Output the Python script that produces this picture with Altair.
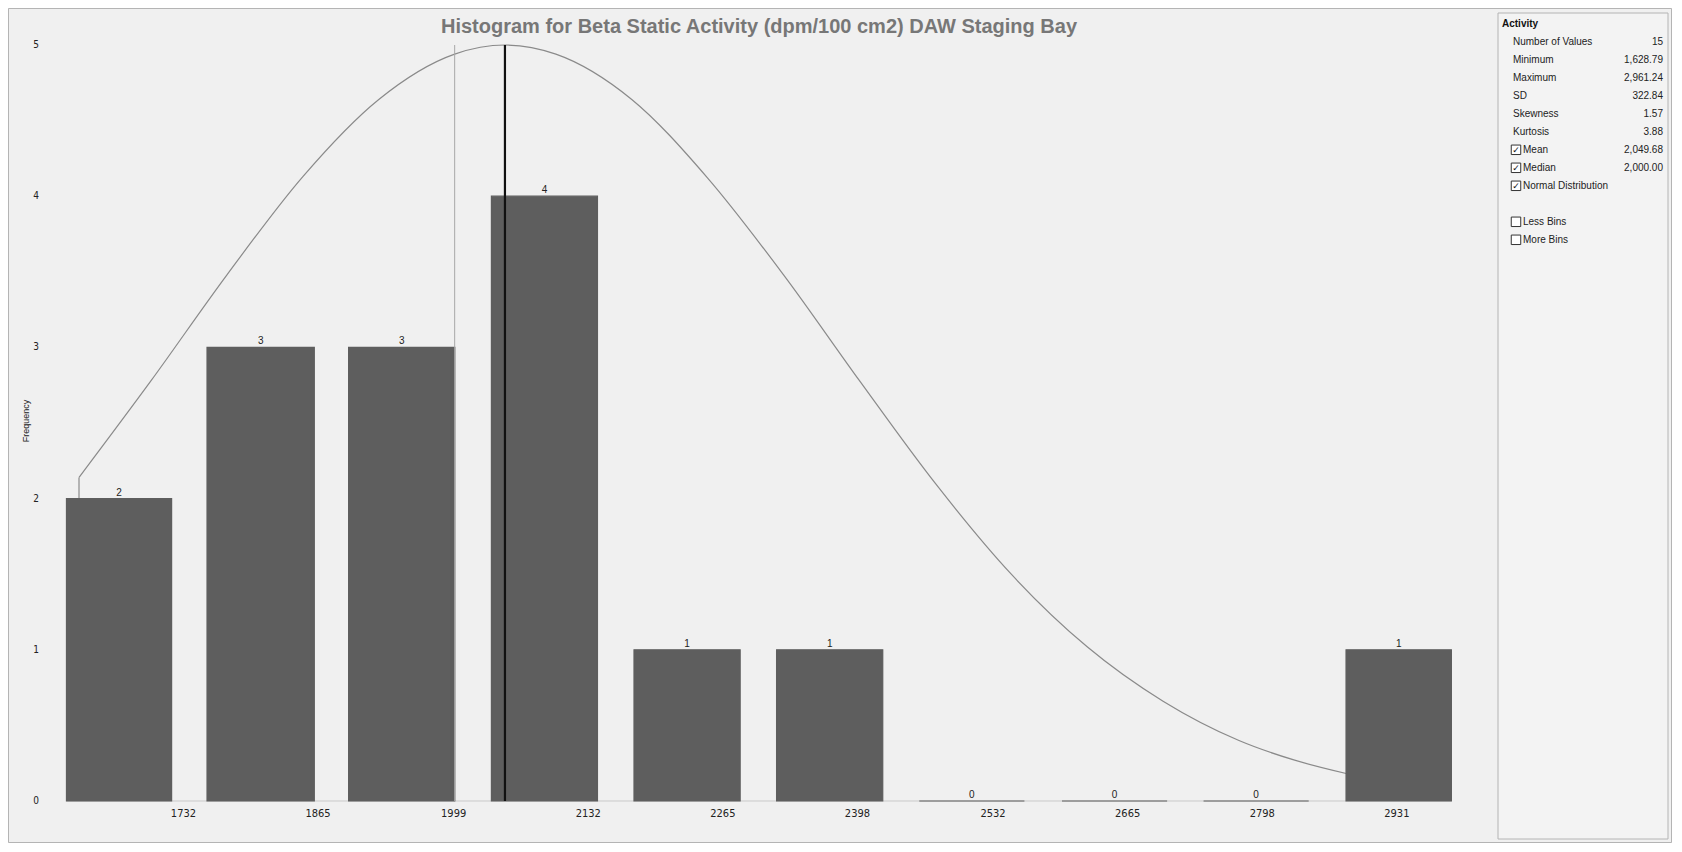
import altair as alt
import pandas as pd

# ---------------- data ----------------
bin_start = [1616.4, 1755.3, 1895.2, 2036.3, 2177.2, 2318.1, 2459.1, 2600.1, 2740.0, 2880.8]
bin_end = [1720.3, 1861.3, 2000.1, 2141.1, 2282.1, 2423.0, 2563.0, 2704.0, 2843.9, 2984.9]
counts = [2, 3, 3, 4, 1, 1, 0, 0, 0, 1]

tick_values = [1732, 1865, 1999, 2132, 2265, 2398, 2532, 2665, 2798, 2931]
y_ticks = [0, 1, 2, 3, 4, 5]

curve_x = [1628.79, 1700, 1775, 1850, 1925, 2000, 2049.68, 2100, 2175, 2250,
           2325, 2400, 2475, 2550, 2625, 2700, 2775, 2830, 2882]
curve_y = [2.14, 2.78, 3.48, 4.13, 4.64, 4.94, 5.00, 4.94, 4.64, 4.12,
           3.48, 2.78, 2.10, 1.50, 1.02, 0.66, 0.40, 0.27, 0.18]

mean_value = 2049.68
median_value = 2000.0
y_top = 5

stat_labels = ["Number of Values", "Minimum", "Maximum", "SD", "Skewness", "Kurtosis",
               "Mean", "Median", "Normal Distribution", "Less Bins", "More Bins"]
stat_values = ["15", "1,628.79", "2,961.24", "322.84", "1.57", "3.88",
               "2,049.68", "2,000.00", "", "", ""]
stat_rows = [0, 1, 2, 3, 4, 5, 6, 7, 8, 10, 11]
stat_check = ["none"] * 6 + ["checked"] * 3 + ["unchecked"] * 2

title_text = "Histogram for Beta Static Activity (dpm/100 cm2) DAW Staging Bay"
panel_title = "Activity"

# ---------------- layout ----------------
W, H = 1664, 835
ZERO_PX, UNIT_PX = 793.0, 151.2
FONT = "Liberation Sans, Arial, sans-serif"
NARROW = "Liberation Sans Narrow, DejaVu Sans Condensed, Liberation Sans, sans-serif"

xs = alt.Scale(domain=[1558.63, 3202.89], nice=False, zero=False)
ys = alt.Scale(domain=[(ZERO_PX - H) / UNIT_PX, ZERO_PX / UNIT_PX], nice=False, zero=False)

bars_df = pd.DataFrame({"start": bin_start, "end": bin_end, "count": counts})
bars_df["mid"] = (bars_df["start"] + bars_df["end"]) / 2
bars_df["zero"] = 0
curve_df = pd.DataFrame({"x": curve_x, "y": curve_y})
ticks_df = pd.DataFrame({"t": tick_values, "label": [str(t) for t in tick_values]})
yt_df = pd.DataFrame({"v": y_ticks, "label": [str(v) for v in y_ticks]})
stats_df = pd.DataFrame({"label": stat_labels, "value": stat_values,
                         "row": stat_rows, "check": stat_check})
one = pd.DataFrame({"a": [0]})
median_df = pd.DataFrame({"x": [median_value], "zero": [0], "top": [y_top]})
mean_df = pd.DataFrame({"x": [mean_value], "zero": [0], "top": [y_top]})
start_df = pd.DataFrame({"x": [curve_x[0]], "zero": [0], "y2": [curve_y[0]]})
base_df = pd.DataFrame({"a": [bin_start[0]], "b": [bin_end[-1]], "zero": [0]})


def X(f):
    return alt.X(f, type="quantitative", scale=xs, axis=None)


def Y(f):
    return alt.Y(f, type="quantitative", scale=ys, axis=None)


frame = alt.Chart(one).mark_rect(fill="#f0f0f0", stroke="#b4b4b4", strokeWidth=1).encode(
    x=alt.value(0.5), x2=alt.value(W - 0.5), y=alt.value(0.5), y2=alt.value(H - 0.5))

baseline = alt.Chart(base_df).mark_rule(color="#c9c9c9", strokeWidth=1).encode(
    x=X("a"), x2=alt.X2("b"), y=Y("zero"))

curve_start = alt.Chart(start_df).mark_rule(color="#8a8a8a", strokeWidth=1.2).encode(
    x=X("x"), y=Y("zero"), y2=alt.Y2("y2"))
curve = alt.Chart(curve_df).mark_line(color="#8a8a8a", strokeWidth=1.2,
                                      interpolate="monotone").encode(x=X("x"), y=Y("y"))

bars = alt.Chart(bars_df).mark_rect(color="#5e5e5e", stroke="#5e5e5e", strokeWidth=1.2).encode(
    x=X("start"), x2=alt.X2("end"), y=Y("zero"), y2=alt.Y2("count"))
bar_labels = alt.Chart(bars_df).mark_text(font=FONT, fontSize=10, color="#222222",
                                          baseline="alphabetic", dy=-3).encode(
    x=X("mid"), y=Y("count"), text=alt.Text("count:Q"))

median_line = alt.Chart(median_df).mark_rule(color="#a8a8a8", strokeWidth=1).encode(
    x=X("x"), y=Y("zero"), y2=alt.Y2("top"))
mean_line = alt.Chart(mean_df).mark_rule(color="#111111", strokeWidth=2.2).encode(
    x=X("x"), y=Y("zero"), y2=alt.Y2("top"))

x_labels = alt.Chart(ticks_df).mark_text(font=NARROW, fontSize=11, color="#222222",
                                         baseline="middle").encode(
    x=X("t"), y=alt.value(806), text=alt.Text("label:N"))
y_labels = alt.Chart(yt_df).mark_text(font=NARROW, fontSize=10, color="#222222",
                                      baseline="middle", align="center").encode(
    x=alt.value(28), y=Y("v"), text=alt.Text("label:N"))
y_title = alt.Chart(one).mark_text(font=FONT, fontSize=9, color="#222222", angle=270,
                                   baseline="middle", align="center").encode(
    x=alt.value(18), y=alt.value(413), text=alt.value("Frequency"))
title = alt.Chart(one).mark_text(font=FONT, fontSize=20, fontWeight="bold", color="#777777",
                                 baseline="middle", align="center").encode(
    x=alt.value(751), y=alt.value(19), text=alt.value(title_text))

main = alt.layer(frame, baseline, curve_start, curve, bars, median_line, mean_line,
                 bar_labels, x_labels, y_labels, y_title, title)

# ---------------- statistics panel ----------------
ps = alt.Scale(domain=[-33.8 / 18, (H - 33.8) / 18], nice=False, zero=False, reverse=True)


def PY(f):
    return alt.Y(f, type="quantitative", scale=ps, axis=None)


panel_box = alt.Chart(one).mark_rect(fill="#f3f3f3", stroke="#b4b4b4", strokeWidth=1).encode(
    x=alt.value(1490), x2=alt.value(1660), y=alt.value(5), y2=alt.value(H - 4))
panel_head = alt.Chart(pd.DataFrame({"row": [-1], "label": [panel_title]})).mark_text(
    font=FONT, fontSize=10, fontWeight="bold", color="#111111", align="left",
    baseline="middle").encode(x=alt.value(1494), y=PY("row"), text=alt.Text("label:N"))
plain_labels = alt.Chart(stats_df).transform_filter("datum.check == 'none'").mark_text(
    font=FONT, fontSize=10, color="#222222", align="left", baseline="middle").encode(
    x=alt.value(1505), y=PY("row"), text=alt.Text("label:N"))
box_labels = alt.Chart(stats_df).transform_filter("datum.check != 'none'").mark_text(
    font=FONT, fontSize=10, color="#222222", align="left", baseline="middle").encode(
    x=alt.value(1515), y=PY("row"), text=alt.Text("label:N"))
values = alt.Chart(stats_df).mark_text(
    font=FONT, fontSize=10, color="#222222", align="right", baseline="middle").encode(
    x=alt.value(1655), y=PY("row"), text=alt.Text("value:N"))
boxes = alt.Chart(stats_df).transform_filter("datum.check != 'none'").mark_square(
    size=90, filled=True, fill="#ffffff", stroke="#333333", strokeWidth=1, opacity=1).encode(
    x=alt.value(1508), y=PY("row"))
checks = alt.Chart(stats_df).transform_filter("datum.check == 'checked'").mark_text(
    font="DejaVu Sans", fontSize=9, fontWeight="bold", color="#111111", align="center",
    baseline="middle").encode(x=alt.value(1508), y=PY("row"), text=alt.value("✓"))

panel = alt.layer(panel_box, panel_head, plain_labels, box_labels, values, boxes, checks)

chart = alt.layer(main, panel).resolve_scale(y="independent").properties(
    width=W, height=H, padding=0, autosize=alt.AutoSizeParams(type="none"),
    background="#f0f0f0"
).configure_view(stroke=None)

chart.save("out.html", embed_options={"renderer": "svg", "actions": False})
